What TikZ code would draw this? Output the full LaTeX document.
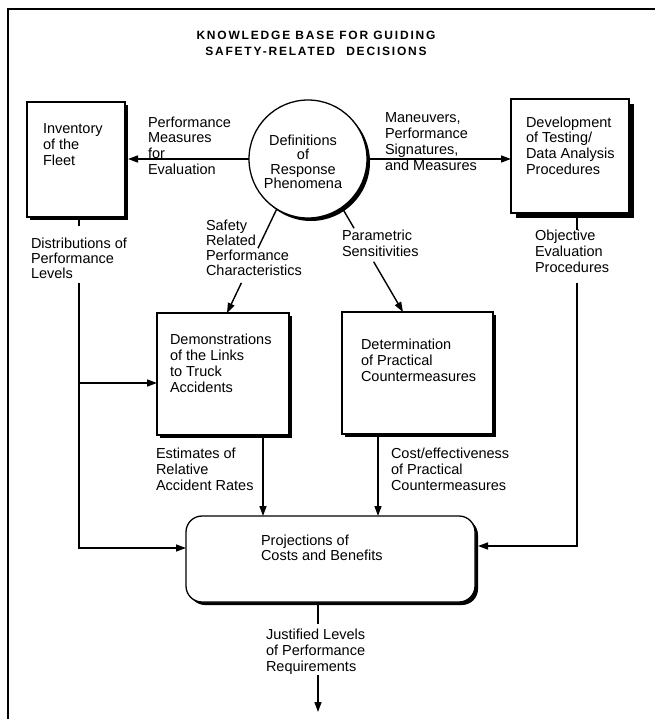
\documentclass[tikz,border=0pt]{standalone}
\usepackage{fontspec}
\setmainfont{Liberation Sans}
\newfontfamily\titlefont[LetterSpace=15]{Liberation Sans Bold}
\usetikzlibrary{arrows.meta,shadows,calc}

\begin{document}
\begin{tikzpicture}[x=1pt,y=-1pt,
  every node/.style={inner sep=0pt, outer sep=0pt},
  txt/.style={anchor=north west, align=left, font=\fontsize{14.5}{16}\selectfont},
  box/.style={draw, line width=1.3pt, fill=white,
    drop shadow={shadow xshift=#1, shadow yshift=-#1, opacity=1, fill=black}},
  box/.default=3pt,
  conn/.style={line width=1.4pt},
  arr/.style={conn, -{Triangle[length=10pt,width=7pt]}},
]
\useasboundingbox (0,0) rectangle (655,719);

% outer frame (top and left edges)
\draw[line width=2.6pt] (8,719) -- (8,9) -- (655,9);

% title
\node[anchor=north, align=center, font=\titlefont\fontsize{12}{15.5}\selectfont]
  (title) at (316,31.5) {KNOWLEDGE BASE FOR GUIDING\\SAFETY-RELATED\hspace{6pt} DECISIONS};

% boxes
\node[box, minimum width=98pt, minimum height=115pt] (inv) at (76,159.5) {};
\node[box=5pt, minimum width=118pt, minimum height=114pt] (dev) at (570,156) {};
\node[box, minimum width=132pt, minimum height=122pt] (demo) at (223,374) {};
\node[box, minimum width=151pt, minimum height=122pt] (det) at (417.5,373) {};
\node[box, rounded corners=16pt, minimum width=289pt, minimum height=86pt] (proj) at (330.5,559) {};
\node[box, circle, minimum size=118pt] (circ) at (308,159) {};

% box texts
\node[txt] (inv-t) at (43,123.6) {Inventory\\of the\\Fleet};
\node[txt, align=center, anchor=north, font=\fontsize{14.5}{14.5}\selectfont] (circ-t) at (303,134.6)
  {Definitions\\of\\Response\\Phenomena};
\node[txt, font=\fontsize{14.5}{15.7}\selectfont] (dev-t) at (526,116.6)
  {Development\\of Testing/\\Data Analysis\\Procedures};
\node[txt] (demo-t) at (170,333.6) {Demonstrations\\of the Links\\to Truck\\Accidents};
\node[txt] (det-t) at (361,338.6) {Determination\\of Practical\\Countermeasures};
\node[txt, font=\fontsize{14.5}{15.5}\selectfont] (proj-t) at (261,534.6) {Projections of\\Costs and Benefits};

% connector labels
\node[txt, font=\fontsize{14.5}{15.7}\selectfont] (l-perf) at (148,116.6)
  {Performance\\Measures\\for\\Evaluation};
\node[txt] (l-man) at (385,112.6) {Maneuvers,\\Performance\\Signatures,\\and Measures};
\node[txt] (l-obj) at (535,229.6) {Objective\\Evaluation\\Procedures};
\node[txt, font=\fontsize{14.5}{15.3}\selectfont] (l-dist) at (31,237.6)
  {Distributions of\\Performance\\Levels};
\node[txt, font=\fontsize{14.5}{15.3}\selectfont] (l-safe) at (206,219.6)
  {Safety\\Related\\Performance\\Characteristics};
\node[txt] (l-par) at (342,229.6) {Parametric\\Sensitivities};
\node[txt] (l-est) at (156,447.6) {Estimates of\\Relative\\Accident Rates};
\node[txt] (l-cost) at (391,447.6) {Cost/effectiveness\\of Practical\\Countermeasures};
\node[txt] (l-just) at (266,628.6) {Justified Levels\\of Performance\\Requirements};

% named turning points of the connectors
\coordinate (disttop) at (79,283);
\coordinate (objtop) at (577,283);
\coordinate (justtop) at (318,675);
\coordinate (out) at (318,712);
\coordinate (safe-a) at (circ.238);
\coordinate (safe-b) at (demo.north -| 227,0);
\coordinate (par-a) at (circ.-55);
\coordinate (par-b) at (det.north -| 403,0);

% connectors from the definitions circle
\draw[arr] (circ.west) -- ([xshift=3pt]circ.west -| inv.east);
\draw[arr] (circ.east) -- (circ.east -| dev.west);
\draw[conn] (safe-a) -- ($(safe-a)!0.377!(safe-b)$);
\draw[arr] ($(safe-a)!0.71!(safe-b)$) -- (safe-b);
\draw[conn] (par-a) -- ($(par-a)!0.2!(par-b)$);
\draw[arr] ($(par-a)!0.52!(par-b)$) -- (par-b);

% fleet inventory branch
\draw[conn] (inv.south -| disttop) -- (79,226);
\draw[arr] (disttop) |- (proj.west |- 0,548);
\draw[arr] (disttop |- 0,383) -- (demo.west |- 0,383);

% testing procedures branch
\draw[conn] (dev.south -| objtop) -- (577,230);
\draw[arr] (objtop) |- ([xshift=3pt]proj.east |- 0,546);

% into the projections box
\draw[arr] (demo.south -| 263,0) -- (proj.north -| 263,0);
\draw[arr] (det.south -| 378,0) -- (proj.north -| 378,0);

% outcome
\draw[conn] (proj.south -| justtop) -- (318,624);
\draw[arr] (justtop) -- (out);
\end{tikzpicture}
\end{document}
